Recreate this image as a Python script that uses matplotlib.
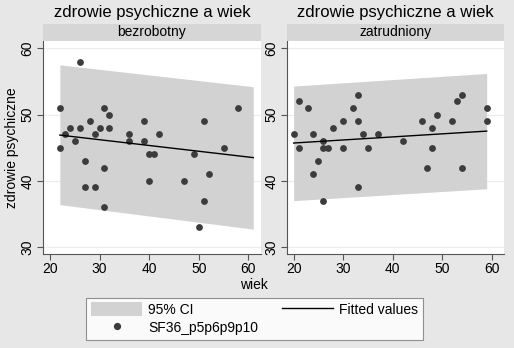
import matplotlib
matplotlib.use("Agg")
import matplotlib.pyplot as plt
from matplotlib.patches import Patch
from matplotlib.lines import Line2D

plt.rcParams['font.family'] = ['Liberation Sans', 'DejaVu Sans']

# ---- data ----
groups = ["bezrobotny", "zatrudniony"]
title = "zdrowie psychiczne a wiek"

age_bez = [22, 22, 23, 24, 25, 26, 26, 27, 27, 28, 29, 29, 30, 31, 31, 31, 32, 32,
           36, 36, 39, 39, 40, 40, 41, 42, 47, 49, 50, 51, 51, 52, 55, 58]
mh_bez = [51, 45, 47, 48, 46, 48, 58, 43, 39, 49, 47, 39, 48, 51, 42, 36, 50, 48,
          47, 46, 49, 46, 44, 40, 44, 47, 40, 44, 33, 49, 37, 41, 45, 51]

age_zat = [20, 21, 21, 23, 24, 24, 25, 26, 26, 26, 27, 28, 30, 30, 32, 33, 33, 33,
           34, 35, 37, 42, 46, 47, 48, 48, 49, 52, 53, 54, 54, 59, 59]
mh_zat = [47, 52, 45, 51, 47, 41, 43, 46, 45, 37, 45, 48, 49, 45, 51, 53, 49, 39,
          47, 45, 47, 46, 49, 42, 48, 45, 50, 49, 52, 53, 42, 51, 49]

# fitted values and 95% CI at the ends of each band
fit_x_bez = [22, 61]
fit_y_bez = [46.9, 43.5]
ci_lo_bez = [36.4, 32.7]
ci_hi_bez = [57.5, 54.2]

fit_x_zat = [20, 59]
fit_y_zat = [45.7, 47.5]
ci_lo_zat = [37.0, 38.8]
ci_hi_zat = [54.3, 56.2]

xticks = [20, 30, 40, 50, 60]
yticks = [30, 40, 50, 60]

panels = [
    (groups[0], age_bez, mh_bez, fit_x_bez, fit_y_bez, ci_lo_bez, ci_hi_bez),
    (groups[1], age_zat, mh_zat, fit_x_zat, fit_y_zat, ci_lo_zat, ci_hi_zat),
]

# ---- styling ----
W, H = 514, 348
BG = "#e7e7e7"
STRIP = "#d6d6d6"
CI = "#d2d2d2"
DOT = "#3c3c3c"

fig = plt.figure(figsize=(W / 100, H / 100), dpi=100, facecolor=BG)


def fbox(l, t, r, b):
    return [l / W, 1 - b / H, (r - l) / W, (b - t) / H]


lefts = [(43, 260.7), (286.7, 504)]
for (l, r), (grp, xs, ys, fx, fy, lo, hi) in zip(lefts, panels):
    ax = fig.add_axes(fbox(l, 41, r, 254))
    ax.set_facecolor("white")
    ax.fill_between(fx, lo, hi, color=CI, lw=0, zorder=1)
    ax.scatter(xs, ys, s=24, color=DOT, zorder=3, linewidths=0)
    ax.plot(fx, fy, color="black", lw=1, zorder=4)
    ax.set_xlim(18.6, 62.5)
    ax.set_ylim(28.95, 61.1)
    ax.set_xticks(xticks)
    ax.set_yticks(yticks)
    ax.set_xticklabels([str(v) for v in xticks], fontsize=10)
    ax.set_yticklabels([str(v) for v in yticks], fontsize=10, rotation=90, va="center")
    ax.tick_params(axis="both", length=4, width=0.8, color="#555555", pad=2)
    ax.grid(axis="y", color="#ececec", lw=0.8, zorder=0)
    ax.set_axisbelow(True)
    for s in ["top", "right"]:
        ax.spines[s].set_visible(False)
    for s in ["left", "bottom"]:
        ax.spines[s].set_color("#555555")
        ax.spines[s].set_linewidth(0.8)
    # strip
    sax = fig.add_axes(fbox(l, 24, r, 40.7))
    sax.set_facecolor(STRIP)
    sax.set_xticks([])
    sax.set_yticks([])
    for s in sax.spines.values():
        s.set_visible(False)
    sax.text(0.5, 0.5, grp, ha="center", va="center", fontsize=10,
             transform=sax.transAxes)
    # panel title
    fig.text(((l + r) / 2) / W, 1 - 13 / H, title, ha="center", va="center",
             fontsize=12)

fig.text(12 / W, 1 - 148 / H, "zdrowie psychiczne", rotation=90, ha="center",
         va="center", fontsize=10)
fig.text(254 / W, 1 - 285 / H, "wiek", ha="center", va="center", fontsize=10)

handles = [Patch(facecolor=CI, edgecolor="none"),
           Line2D([], [], marker="o", ls="none", color=DOT, markersize=4.2),
           Line2D([], [], color="black", lw=1),
           ]
labels = ["95% CI", "SF36_p5p6p9p10", "Fitted values"]
leg = fig.legend(handles, labels, ncol=2, loc="upper left",
                 bbox_to_anchor=(86 / W, 1 - 341.7 / H, (423 - 86) / W, 44.2 / H),
                 mode="expand", fontsize=10, frameon=True, fancybox=False,
                 handlelength=3.7, handleheight=1.1, handletextpad=0.45,
                 borderpad=0.35, labelspacing=0.28, borderaxespad=0)
leg.get_frame().set_edgecolor("#777777")
leg.get_frame().set_linewidth(0.8)
leg.get_frame().set_facecolor("white")

fig.savefig("out.png", dpi=100, facecolor=BG)
